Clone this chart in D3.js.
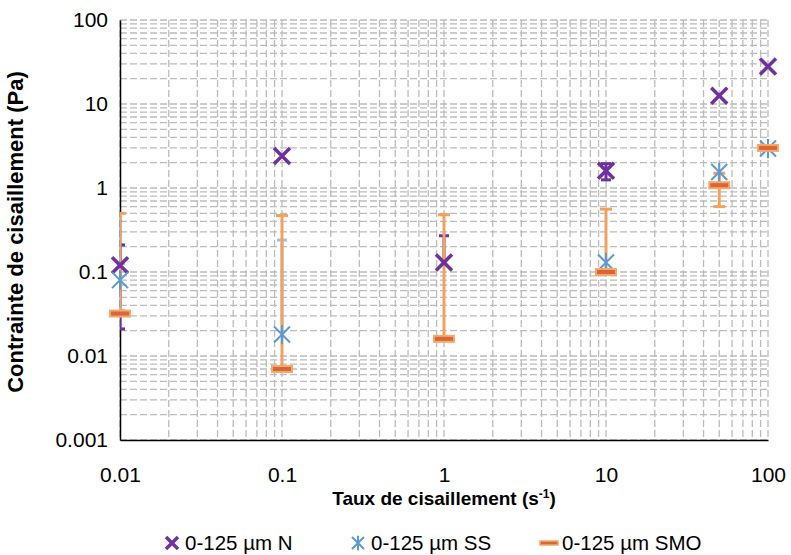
<!DOCTYPE html>
<html>
<head>
<meta charset="utf-8">
<script src="https://cdn.jsdelivr.net/npm/d3@7"></script>
<style>
  body { margin: 0; background: #fff; }
  svg text { font-family: "Liberation Sans", "DejaVu Sans", sans-serif; fill: #000; }
</style>
</head>
<body>
<svg id="chart" width="791" height="555"></svg>
<script>
// shear rate (s-1)
let rates = [0.01, 0.1, 1, 10, 50, 100]

// 0-125 µm N
let nVals = [0.12, 2.4, 0.13, 1.6, 12.5, 28]
let nLow  = [0.021, null, null, 1.25, null, null]
let nHigh = [0.21, null, 0.27, 1.95, null, null]

// 0-125 µm SS
let ssVals = [0.08, 0.018, null, 0.13, 1.55, 2.95]
let ssLow  = [0.035, null, null, null, null, null]
let ssHigh = [0.125, 0.24, null, null, null, null]

// 0-125 µm SMO
let smoVals = [0.032, 0.007, 0.016, 0.1, 1.08, 3.0]
let smoLow  = [null, null, null, null, 0.6, null]
let smoHigh = [0.5, 0.47, 0.48, 0.56, 1.5, null]

let xTicks = [0.01, 0.1, 1, 10, 100]
let yTicks = [0.001, 0.01, 0.1, 1, 10, 100]

let seriesNames = ["0-125 µm N", "0-125 µm SS", "0-125 µm SMO"]

var margin = {top: 20, right: 23, bottom: 115, left: 120},
    width = 791 - margin.left - margin.right,
    height = 555 - margin.top - margin.bottom;

var svg = d3.select("svg#chart")
    .append("g")
    .attr("transform", "translate(" + margin.left + "," + margin.top + ")");

let xScale = d3.scaleLog().domain([0.01, 100]).range([0, width])
let yScale = d3.scaleLog().domain([0.001, 100]).range([height, 0])

// minor + major values for the grid
let xGrid = [], yGrid = []
for (let e = -2; e <= 2; e++) for (let m = 1; m <= 9; m++) {
    let v = m * Math.pow(10, e)
    if (v >= 0.01 && v <= 100) xGrid.push(v)
}
for (let e = -3; e <= 2; e++) for (let m = 1; m <= 9; m++) {
    let v = m * Math.pow(10, e)
    if (v >= 0.001 && v <= 100) yGrid.push(v)
}

svg.append("g")
    .selectAll("line")
    .data(yGrid)
    .enter()
    .append("line")
        .attr("x1", 0).attr("x2", width)
        .attr("y1", d => yScale(d)).attr("y2", d => yScale(d))
        .attr("stroke", "#bcbcbc")
        .attr("stroke-width", 1.3)
        .attr("stroke-dasharray", "7,3")

svg.append("g")
    .selectAll("line")
    .data(xGrid)
    .enter()
    .append("line")
        .attr("x1", d => xScale(d)).attr("x2", d => xScale(d))
        .attr("y1", 0).attr("y2", height)
        .attr("stroke", "#bcbcbc")
        .attr("stroke-width", 1.3)
        .attr("stroke-dasharray", "7,3")

let fmt = d => String(d)

svg.append("g")
    .call(d3.axisLeft(yScale).tickValues(yTicks).tickFormat(fmt).tickSize(0).tickPadding(12))
    .call(g => g.select(".domain").attr("stroke", "#000").attr("stroke-width", 1.5))
    .selectAll("text").attr("font-size", "21px")

svg.append("g")
    .attr("transform", "translate(0," + height + ")")
    .call(d3.axisBottom(xScale).tickValues(xTicks).tickFormat(fmt).tickSize(0).tickPadding(27))
    .call(g => g.select(".domain").attr("stroke", "#000").attr("stroke-width", 1.5))
    .selectAll("text").attr("font-size", "21px")

// axis titles
let xt = svg.append("text")
    .attr("x", width / 2)
    .attr("y", height + 65)
    .attr("text-anchor", "middle")
    .attr("font-size", "19px")
    .attr("font-weight", "bold")
    .text("Taux de cisaillement (s")
xt.append("tspan").attr("baseline-shift", "super").attr("font-size", "12px").text("-1")
xt.append("tspan").text(")")

svg.append("text")
    .attr("transform", "translate(" + (-97) + "," + (height / 2 + 2) + ") rotate(-90)")
    .attr("text-anchor", "middle")
    .attr("font-size", "22px")
    .attr("font-weight", "bold")
    .text("Contrainte de cisaillement (Pa)")

// error bars (clipped to the plot area)
svg.append("clipPath").attr("id", "plotClip")
    .append("rect").attr("width", width).attr("height", height)

let errLayer = svg.append("g").attr("clip-path", "url(#plotClip)")

function errorBars(vals, lo, hi, color, cap) {
    let data = rates.map((r, i) => ({r: r, v: vals[i], lo: lo[i], hi: hi[i]}))
        .filter(d => d.v != null && (d.lo != null || d.hi != null))
    let g = errLayer.append("g").attr("stroke", color).attr("stroke-width", 3)
    data.forEach(d => {
        let x = xScale(d.r)
        let top = d.hi != null ? d.hi : d.v
        let bot = d.lo != null ? d.lo : d.v
        g.append("line").attr("x1", x).attr("x2", x)
            .attr("y1", yScale(top)).attr("y2", yScale(bot))
        if (d.hi != null) g.append("line")
            .attr("x1", x - cap).attr("x2", x + cap)
            .attr("y1", yScale(d.hi)).attr("y2", yScale(d.hi))
        if (d.lo != null) g.append("line")
            .attr("x1", x - cap).attr("x2", x + cap)
            .attr("y1", yScale(d.lo)).attr("y2", yScale(d.lo))
    })
}

let cN = "#7030a0", cSS = "#5b9bd5", cSMO = "#f4a15d"

errorBars(nVals, nLow, nHigh, cN, 5)
errorBars(ssVals, ssLow, ssHigh, "#9dc3e6", 5)
errorBars(smoVals, smoLow, smoHigh, cSMO, 6)

// markers
function drawX(g, x, y, s) {
    g.append("path")
        .attr("d", `M${x - s},${y - s}L${x + s},${y + s}M${x - s},${y + s}L${x + s},${y - s}`)
        .attr("stroke", cN).attr("stroke-width", 3.5).attr("fill", "none")
}
function drawStar(g, x, y, s) {
    g.append("path")
        .attr("d", `M${x - s},${y - s}L${x + s},${y + s}M${x - s},${y + s}L${x + s},${y - s}M${x},${y - s * 1.2}L${x},${y + s * 1.2}`)
        .attr("stroke", cSS).attr("stroke-width", 2).attr("fill", "none")
}
function drawDash(g, x, y, w) {
    g.append("rect")
        .attr("x", x - w).attr("y", y - 3).attr("width", w * 2).attr("height", 6)
        .attr("fill", "#d9653b").attr("stroke", "#f7a968").attr("stroke-width", 2)
}

let marks = svg.append("g")
rates.forEach((r, i) => { if (nVals[i] != null) drawX(marks, xScale(r), yScale(nVals[i]), 8) })
rates.forEach((r, i) => { if (ssVals[i] != null) drawStar(marks, xScale(r), yScale(ssVals[i]), 8) })
rates.forEach((r, i) => { if (smoVals[i] != null) drawDash(marks, xScale(r), yScale(smoVals[i]), 10) })

// legend
let leg = d3.select("svg#chart").append("g")
let legX = [172, 358, 549]
drawX(leg, legX[0], 543, 6)
drawStar(leg, legX[1], 543, 6)
leg.append("rect").attr("x", legX[2] - 9).attr("y", 541).attr("width", 18).attr("height", 4)
    .attr("fill", "#d9653b").attr("stroke", "#f7a968").attr("stroke-width", 1.5)

leg.selectAll("text.lbl")
    .data(seriesNames)
    .enter()
    .append("text")
        .attr("class", "lbl")
        .attr("x", (d, i) => legX[i] + 13)
        .attr("y", 550)
        .attr("font-size", "20.5px")
        .text(d => d)
</script>
</body>
</html>
